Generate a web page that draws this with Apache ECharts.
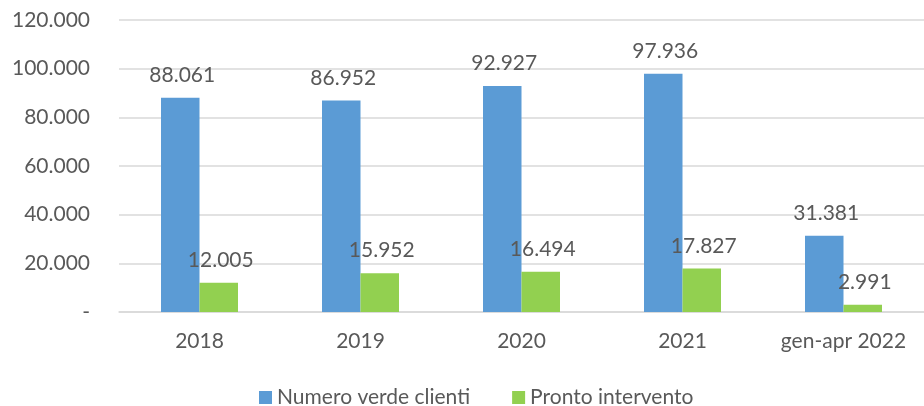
<!DOCTYPE html>
<html>
<head>
    <meta charset="utf-8">
    <title>Chiamate</title>
    <script src="https://cdn.jsdelivr.net/npm/echarts@6/dist/echarts.min.js"></script>
    <style>
        body { margin: 0; background: #fff; }
    </style>
</head>
<body>
    <div id="main" style="width: 924px;height:406px;"></div>
    <script type="text/javascript">
        var categories = ['2018', '2019', '2020', '2021', 'gen-apr 2022'];
        var numeroVerde = [88061, 86952, 92927, 97936, 31381];
        var prontoIntervento = [12005, 15952, 16494, 17827, 2991];
        var seriesNames = ['Numero verde clienti', 'Pronto intervento'];

        var font = 'Lato';
        var textColor = '#595959';

        // 12345 -> "12.345", 0 -> "-"
        function fmt(v) {
            if (v === 0) return '-';
            return String(v).replace(/\B(?=(\d{3})+(?!\d))/g, '.');
        }

        var myChart = echarts.init(document.getElementById('main'));

        var label = {
            show: true,
            position: 'top',
            distance: 12,
            offset: [2, 0],
            color: textColor,
            fontFamily: font,
            fontSize: 21,
            formatter: function (p) { return fmt(p.value); }
        };

        var option = {
            animation: false,
            grid: { left: 119, top: 20, width: 816, height: 292 },
            legend: {
                data: seriesNames,
                bottom: -7,
                left: 254,
                itemWidth: 13,
                itemHeight: 13,
                itemGap: 42,
                icon: 'rect',
                textStyle: { color: textColor, fontFamily: font, fontSize: 21 }
            },
            xAxis: {
                type: 'category',
                data: categories,
                axisLine: { lineStyle: { color: '#D9D9D9', width: 1.5 } },
                axisTick: { show: false },
                axisLabel: { interval: 0, color: textColor, fontFamily: font, fontSize: 21, margin: 19 }
            },
            yAxis: {
                type: 'value',
                min: 0,
                max: 120000,
                interval: 20000,
                axisLine: { show: false },
                axisTick: { show: false },
                splitLine: { lineStyle: { color: '#D9D9D9', width: 1.5 } },
                axisLabel: {
                    color: textColor, fontFamily: font, fontSize: 21, margin: 29,
                    formatter: fmt
                }
            },
            series: [
                {
                    name: seriesNames[0],
                    type: 'bar',
                    data: numeroVerde,
                    barWidth: 38.5,
                    barGap: '0%',
                    itemStyle: { color: '#5B9BD5' },
                    label: label
                },
                {
                    name: seriesNames[1],
                    type: 'bar',
                    data: prontoIntervento,
                    barWidth: 38.5,
                    itemStyle: { color: '#92D050' },
                    label: label
                }
            ]
        };
        myChart.setOption(option);
    </script>
</body>
</html>
